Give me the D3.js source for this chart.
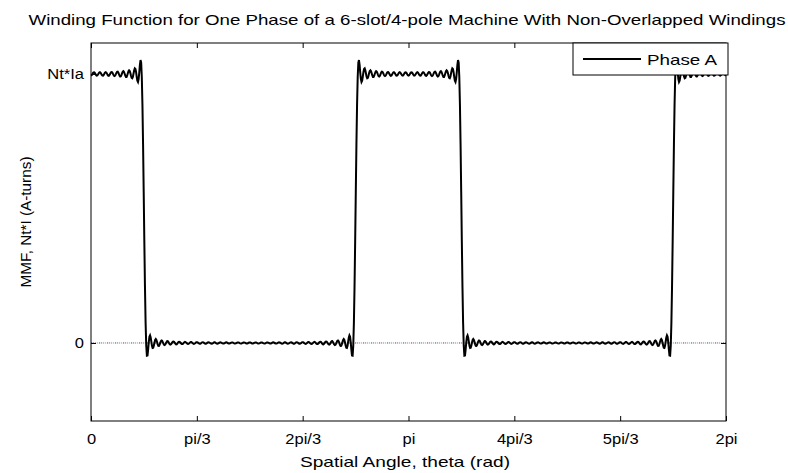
<!DOCTYPE html>
<html><head><meta charset="utf-8">
<script src="https://cdn.jsdelivr.net/npm/d3@7"></script>
<style>body{margin:0;background:#fff}text{font-family:"Liberation Sans",Arial,sans-serif;fill:#000}</style>
</head><body><svg id="chart" width="788" height="473"></svg>
<script>
// Winding layout around the air gap: coil-side edge angles (rad) and the turn step at each edge
const slotEdges = [Math.PI / 6, 5 * Math.PI / 6, 7 * Math.PI / 6, 11 * Math.PI / 6];
const turnSteps = [-1, 1, -1, 1];
const startLevel = 1;                        // value at theta = 0, in units of Nt*Ia
const slotOpening = 0.03;                    // width of each step (rad)
const harmonicOrders = d3.range(1, 107);     // spatial harmonics kept in the series
const sampleCount = 1001;                    // theta samples over one revolution
const xTickValues = [0, 1, 2, 3, 4, 5, 6].map(k => k * Math.PI / 3);
const xTickLabels = ["0", "pi/3", "2pi/3", "pi", "4pi/3", "5pi/3", "2pi"];
const yTickValues = [0, 1];
const yTickLabels = ["0", "Nt*Ia"];
const seriesName = "Phase A";
const titleText = "Winding Function for One Phase of a 6-slot/4-pole Machine With Non-Overlapped Windings";
const xLabelText = "Spatial Angle, theta (rad)";
const yLabelText = "MMF, Nt*I (A-turns)";

// Mean value of the stepped winding function
let area = 0, lvl = startLevel, prev = 0;
slotEdges.forEach((e, i) => { area += lvl * (e - prev); lvl += turnSteps[i]; prev = e; });
area += lvl * (2 * Math.PI - prev);
const mean = area / (2 * Math.PI);

// Fourier coefficients of the winding function (steps spread over the slot opening)
const coeffs = harmonicOrders.map(h => {
  const u = h * slotOpening / 2;
  const k = u === 0 ? 1 : Math.sin(u) / u;
  let a = 0, b = 0;
  slotEdges.forEach((e, i) => {
    a -= k * turnSteps[i] * Math.sin(h * e) / (Math.PI * h);
    b += k * turnSteps[i] * Math.cos(h * e) / (Math.PI * h);
  });
  return { h, a, b };
});
const thetas = d3.range(sampleCount).map(i => i * 2 * Math.PI / (sampleCount - 1));
const series = thetas.map(t => ({
  t,
  v: mean + d3.sum(coeffs, c => c.a * Math.cos(c.h * t) + c.b * Math.sin(c.h * t))
}));

const svg = d3.select("#chart");
const L = 91, R = 726, T = 43, B = 421;
const x = d3.scaleLinear().domain([0, 2 * Math.PI]).range([L, R]);
const y = d3.scaleLinear().domain([-0.29, 1.115]).range([B, T]);

// zero reference, dotted in several colours
const zc = ["#2040ff", "#ff3040", "#20b0b0", "#c0a020"];
zc.forEach((c, i) => {
  svg.append("line").attr("x1", x(0)).attr("x2", x(2 * Math.PI))
    .attr("y1", y(0)).attr("y2", y(0))
    .attr("stroke", c).attr("stroke-width", 1)
    .attr("stroke-dasharray", "1.2,6.8")
    .attr("stroke-dashoffset", -i * 2);
});

// curve
svg.append("path").datum(series)
  .attr("fill", "none").attr("stroke", "#000").attr("stroke-width", 2)
  .attr("d", d3.line().x(d => x(d.t)).y(d => y(d.v)));

// axes (inward ticks on all four sides)
const fmtX = (d, i) => xTickLabels[i];
const fmtY = (d, i) => yTickLabels[i];
const gB = svg.append("g").attr("transform", `translate(0,${B})`)
  .call(d3.axisBottom(x).tickValues(xTickValues).tickFormat(fmtX).tickSizeInner(-5).tickSizeOuter(0));
const gT = svg.append("g").attr("transform", `translate(0,${T})`)
  .call(d3.axisTop(x).tickValues(xTickValues).tickFormat("").tickSizeInner(-5).tickSizeOuter(0));
const gL = svg.append("g").attr("transform", `translate(${L},0)`)
  .call(d3.axisLeft(y).tickValues(yTickValues).tickFormat(fmtY).tickSizeInner(-5).tickSizeOuter(0).tickPadding(7));
const gR = svg.append("g").attr("transform", `translate(${R},0)`)
  .call(d3.axisRight(y).tickValues(yTickValues).tickFormat("").tickSizeInner(-5).tickSizeOuter(0));
[gB, gT, gL, gR].forEach(g => {
  g.select(".domain").remove();
  g.selectAll("line").attr("stroke", "#000");
  g.selectAll("text").attr("font-size", 14).attr("fill", "#000")
    .style("font-family", '"Liberation Sans",Arial,sans-serif');
});
gB.selectAll("text").attr("dy", "0.71em").attr("y", 13);
// slightly wider tick lettering
[gB, gL].forEach(g => g.selectAll("text").each(function () {
  const w = this.getComputedTextLength();
  d3.select(this).attr("textLength", w * 1.18).attr("lengthAdjust", "spacingAndGlyphs");
}));
svg.append("rect").attr("x", L).attr("y", T).attr("width", R - L).attr("height", B - T)
  .attr("fill", "none").attr("stroke", "#000").attr("stroke-width", 1);

// titles
svg.append("text").attr("x", 407).attr("y", 25).attr("text-anchor", "middle")
  .attr("font-size", 15).attr("textLength", 757).attr("lengthAdjust", "spacingAndGlyphs").text(titleText);
svg.append("text").attr("x", 405).attr("y", 467).attr("text-anchor", "middle")
  .attr("font-size", 15).attr("textLength", 210).attr("lengthAdjust", "spacingAndGlyphs").text(xLabelText);
svg.append("text").attr("transform", "translate(31,222) rotate(-90)").attr("text-anchor", "middle")
  .attr("font-size", 15).attr("textLength", 131).attr("lengthAdjust", "spacingAndGlyphs").text(yLabelText);

// legend
const lg = svg.append("g");
lg.append("rect").attr("x", 573).attr("y", 43).attr("width", 155).attr("height", 32)
  .attr("fill", "#fff").attr("stroke", "#000").attr("stroke-width", 1);
lg.append("line").attr("x1", 583).attr("x2", 641).attr("y1", 59).attr("y2", 59)
  .attr("stroke", "#000").attr("stroke-width", 2);
lg.append("text").attr("x", 647).attr("y", 65).attr("font-size", 15)
  .attr("textLength", 70).attr("lengthAdjust", "spacingAndGlyphs").text(seriesName);
</script></body></html>
